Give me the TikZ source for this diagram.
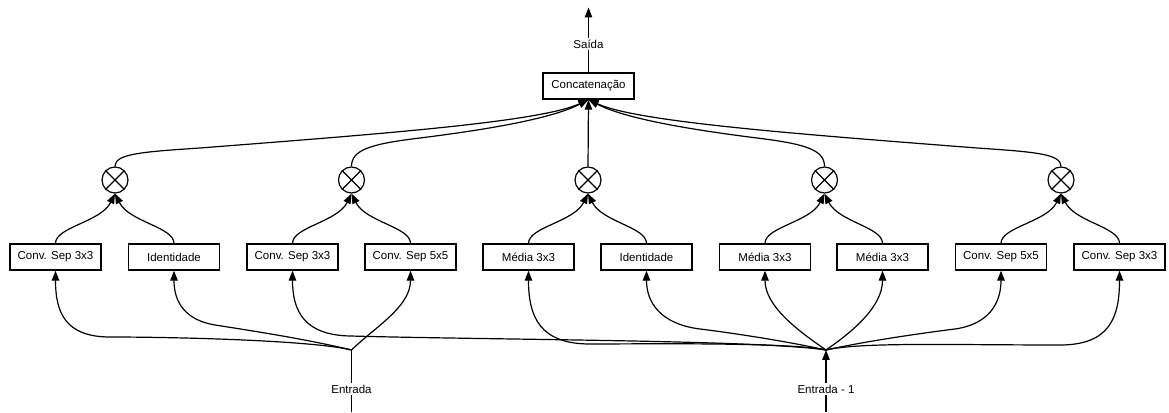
\documentclass[tikz,border=0pt]{standalone}
\usepackage{fontspec}
\setmainfont{Liberation Sans}
\usetikzlibrary{arrows.meta}
\begin{document}
\begin{tikzpicture}[x=1pt,y=1pt,
  txt/.style={font=\fontsize{11.5}{13}\selectfont},
  opbox/.style={txt, draw, line width=1.3pt, minimum width=91pt, minimum height=26pt, inner sep=0pt},
  sumnode/.style={draw, circle, line width=1.2pt, minimum size=26pt, inner sep=0pt},
  lbl/.style={txt, inner sep=2pt},
  wire/.style={line width=1.2pt},
  arr/.style={wire, -{Triangle[length=10pt,width=7.5pt]}}
]
\useasboundingbox (0,0) rectangle (1169,412);

% operation boxes
\node[opbox] (b1)  at (55.5,155)  {Conv. Sep 3x3};
\node[opbox] (b2)  at (174,155)   {Identidade};
\node[opbox] (b3)  at (292.5,155) {Conv. Sep 3x3};
\node[opbox] (b4)  at (410.5,155) {Conv. Sep 5x5};
\node[opbox] (b5)  at (528.5,155) {Média 3x3};
\node[opbox] (b6)  at (646.5,155) {Identidade};
\node[opbox] (b7)  at (765,155)   {Média 3x3};
\node[opbox] (b8)  at (882.5,155) {Média 3x3};
\node[opbox] (b9)  at (1001,155)  {Conv. Sep 5x5};
\node[opbox] (b10) at (1119.5,155){Conv. Sep 3x3};

% combination nodes
\node[sumnode] (c1) at (115,232) {};
\node[sumnode] (c2) at (351.5,232) {};
\node[sumnode] (c3) at (588,232) {};
\node[sumnode] (c4) at (824.5,232) {};
\node[sumnode] (c5) at (1061,232) {};
\foreach \c in {c1,c2,c3,c4,c5} {
  \draw[wire] (\c.north east) -- (\c.south west);
  \draw[wire] (\c.north west) -- (\c.south east);
}

% concatenation and output
\node[opbox] (cat) at (588.5,326) {Concatenação};
\node[lbl] (saida) at (588.5,368) {Saída};
\coordinate (out) at (588.5,404.5);
\draw[wire] (cat.north) -- (saida.south);
\draw[arr] (saida.north) -- (out);

% inputs
\coordinate (jA) at (351.5,62);
\coordinate (jB) at (826,62);
\node[lbl] (ent)  at (351.5,23) {Entrada};
\node[lbl] (ent1) at (826,23)   {Entrada - 1};
\coordinate (endA) at (351.5,0);
\coordinate (endB) at (826,0);
\draw[wire] (jA) -- (ent.north);
\draw[wire] (ent.south) -- (endA);
\draw[arr] (ent1.north) -- (jB);
\draw[wire] (ent1.south) -- (endB);

% input to operations
\draw[arr] (jA) .. controls (310,72) and (170,75) .. (110,75) .. controls (65,75) and (55.5,100) .. (b1.south);
\draw[arr] (jA) .. controls (310,72) and (260,80) .. (215,87) .. controls (185,92) and (174,110) .. (b2.south);
\draw[arr] (jB) .. controls (760,72) and (500,72) .. (350,76) .. controls (305,77) and (292.5,100) .. (b3.south);
\draw[arr] (jA) .. controls (375,85) and (410.5,105) .. (b4.south);
\draw[arr] (jB) .. controls (790,70) and (640,68) .. (590,68) .. controls (540,68) and (528.5,95) .. (b5.south);
\draw[arr] (jB) .. controls (790,70) and (740,78) .. (700,83) .. controls (660,88) and (646.5,110) .. (b6.south);
\draw[arr] (jB) .. controls (800,80) and (765,105) .. (b7.south);
\draw[arr] (jB) .. controls (852,80) and (882.5,105) .. (b8.south);
\draw[arr] (jB) .. controls (862,70) and (915,78) .. (955,83) .. controls (990,88) and (1001,110) .. (b9.south);
\draw[arr] (jB) .. controls (860,70) and (950,67) .. (1060,67) .. controls (1110,67) and (1119.5,95) .. (b10.south);

% operations to combination
\draw[arr] (b1.north)  .. controls (55.5,185)  and (101,190)   .. (c1.south);
\draw[arr] (b2.north)  .. controls (174,185)   and (129,190)   .. (c1.south);
\draw[arr] (b3.north)  .. controls (292.5,185) and (337.5,190) .. (c2.south);
\draw[arr] (b4.north)  .. controls (410.5,185) and (365.5,190) .. (c2.south);
\draw[arr] (b5.north)  .. controls (528.5,185) and (574,190)   .. (c3.south);
\draw[arr] (b6.north)  .. controls (646.5,185) and (602,190)   .. (c3.south);
\draw[arr] (b7.north)  .. controls (765,185)   and (810.5,190) .. (c4.south);
\draw[arr] (b8.north)  .. controls (882.5,185) and (838.5,190) .. (c4.south);
\draw[arr] (b9.north)  .. controls (1001,185)  and (1047,190)  .. (c5.south);
\draw[arr] (b10.north) .. controls (1119.5,185) and (1075,190) .. (c5.south);

% combination to concatenation
\draw[arr] (c1.north) .. controls (115,258) and (140,260) .. (200,264) .. controls (380,278) and (540,290) .. (cat.south);
\draw[arr] (c2.north) .. controls (351.5,262) and (370,268) .. (420,274) .. controls (500,284) and (555,295) .. (cat.south);
\draw[arr] (c3.north) -- (cat.south);
\draw[arr] (c4.north) .. controls (824.5,262) and (806,268) .. (757,274) .. controls (677,284) and (622,295) .. (cat.south);
\draw[arr] (c5.north) .. controls (1061,258) and (1036,260) .. (977,264) .. controls (797,278) and (637,290) .. (cat.south);
\end{tikzpicture}
\end{document}
